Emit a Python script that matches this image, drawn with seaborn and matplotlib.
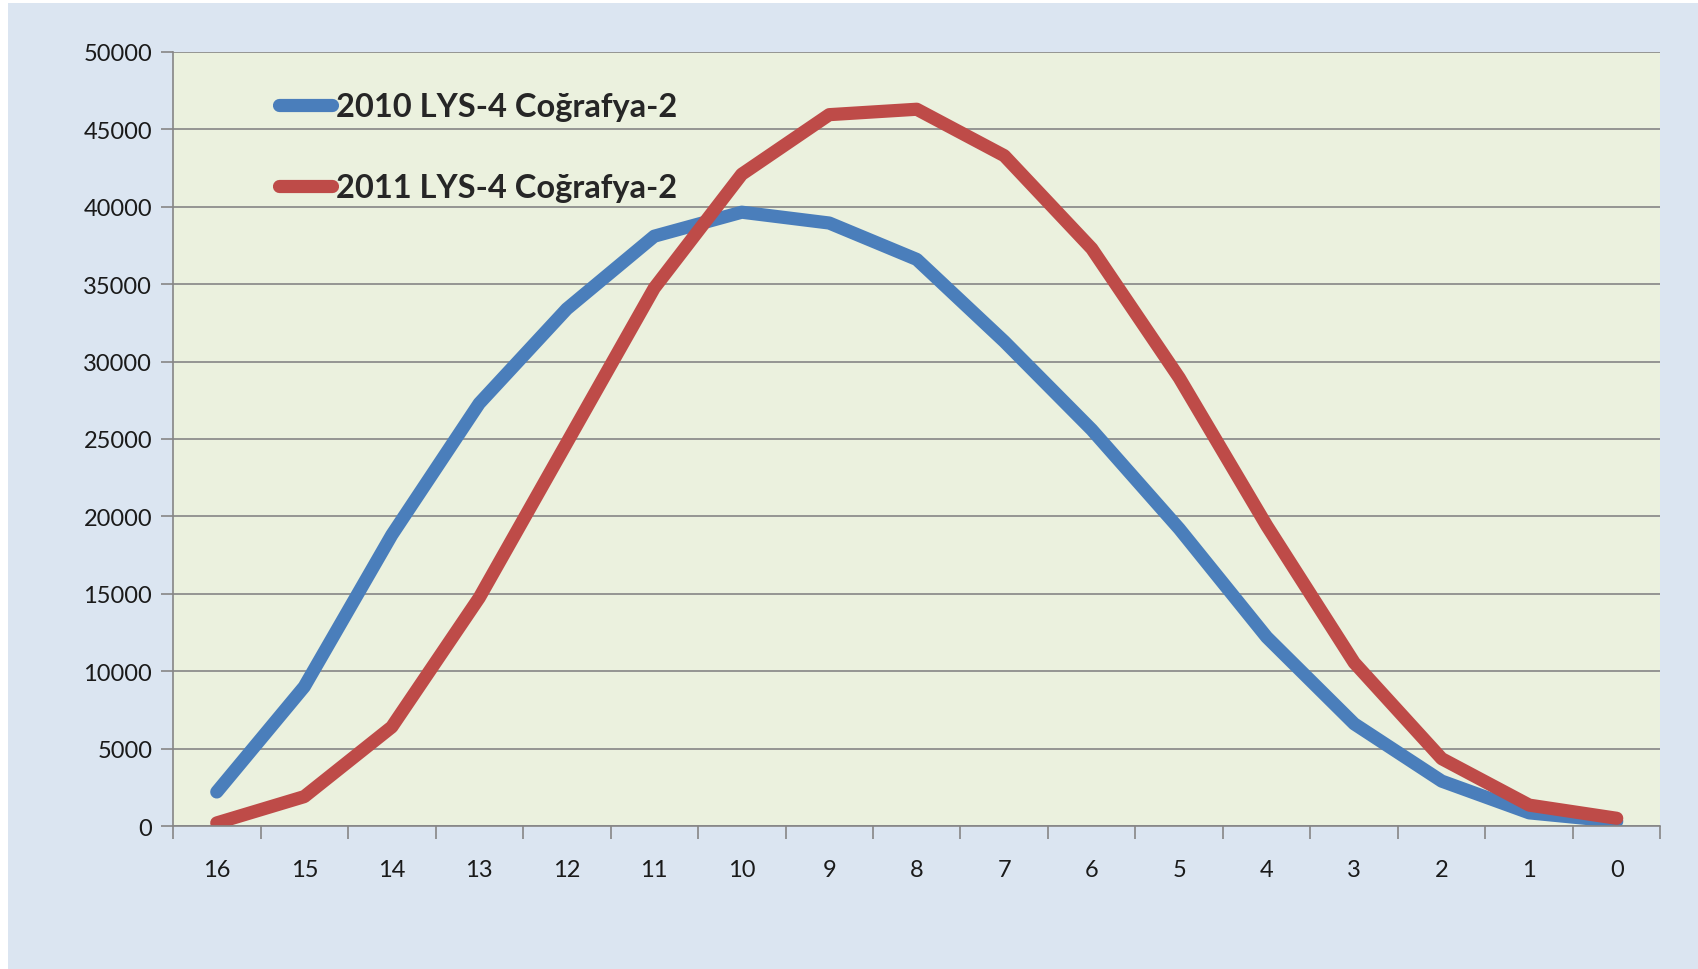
import numpy as np
import pandas as pd
import matplotlib.pyplot as plt
import seaborn as sns
from matplotlib.patches import Rectangle
from matplotlib.ticker import FixedLocator

# data
scores = ["16", "15", "14", "13", "12", "11", "10", "9", "8",
          "7", "6", "5", "4", "3", "2", "1", "0"]
y2010 = [2200, 9000, 18800, 27300, 33400, 38100, 39650, 38950, 36600,
         31300, 25600, 19200, 12200, 6600, 2900, 850, 300]
y2011 = [200, 1900, 6400, 14750, 24750, 34750, 42100, 45950, 46300,
         43300, 37300, 28950, 19400, 10550, 4350, 1350, 500]
series = ["2010 LYS-4 Coğrafya-2", "2011 LYS-4 Coğrafya-2"]
yticks = list(range(0, 50001, 5000))

df = pd.concat([
    pd.DataFrame({"pos": np.arange(len(scores)), "count": y2010, "series": series[0]}),
    pd.DataFrame({"pos": np.arange(len(scores)), "count": y2011, "series": series[1]}),
])

sns.set_style("white")
plt.rcParams["font.family"] = ["Lato", "DejaVu Sans"]

fig = plt.figure(figsize=(16.98, 9.70), dpi=100, facecolor="white")
fig.patches.append(Rectangle((8 / 1698, 0), 1, 1 - 4 / 970, transform=fig.transFigure,
                             facecolor="#DBE5F1", edgecolor="none", zorder=-5))
ax = fig.add_axes([0.1019, 0.1474, 0.876, 0.798])
ax.set_zorder(1)
ax.set_facecolor("#EBF1DE")

palette = {series[0]: "#4A7EBB", series[1]: "#BE4B48"}
sns.lineplot(data=df, x="pos", y="count", hue="series", palette=palette,
             linewidth=9.5, ax=ax, legend=True,
             solid_capstyle="round", solid_joinstyle="round")

ax.set_xlim(-0.5, len(scores) - 0.5)
ax.set_ylim(0, 50000)
ax.set_yticks(yticks)
ax.set_yticklabels([str(v) for v in yticks])
ax.set_xticks(np.arange(len(scores)))
ax.set_xticklabels(scores)
ax.xaxis.set_minor_locator(FixedLocator(np.arange(-0.5, len(scores), 1.0)))
ax.tick_params(axis="x", which="major", length=0, pad=24, labelsize=17, colors="#1a1a1a")
ax.tick_params(axis="x", which="minor", length=9, width=1.2, color="#868686", bottom=True)
ax.tick_params(axis="y", length=9, width=1.2, color="#868686", pad=6, labelsize=17,
               labelcolor="#1a1a1a", left=True)
ax.grid(axis="y", color="#868686", linewidth=1.2)
ax.set_axisbelow(True)
for side in ["top", "right"]:
    ax.spines[side].set_visible(False)
for side in ["left", "bottom"]:
    ax.spines[side].set_color("#868686")
    ax.spines[side].set_linewidth(1.2)
ax.set_xlabel("")
ax.set_ylabel("")

leg = ax.legend(loc="upper left", bbox_to_anchor=(0.071, 0.948), frameon=False,
                borderaxespad=0, borderpad=0,
                handlelength=1.65, handletextpad=0.1, labelspacing=1.6,
                prop={"weight": "bold", "size": 23.5})
for h in leg.get_lines():
    h.set_linewidth(9.5)
    h.set_solid_capstyle("round")

fig.savefig("out.png", dpi=100, facecolor=fig.get_facecolor())
